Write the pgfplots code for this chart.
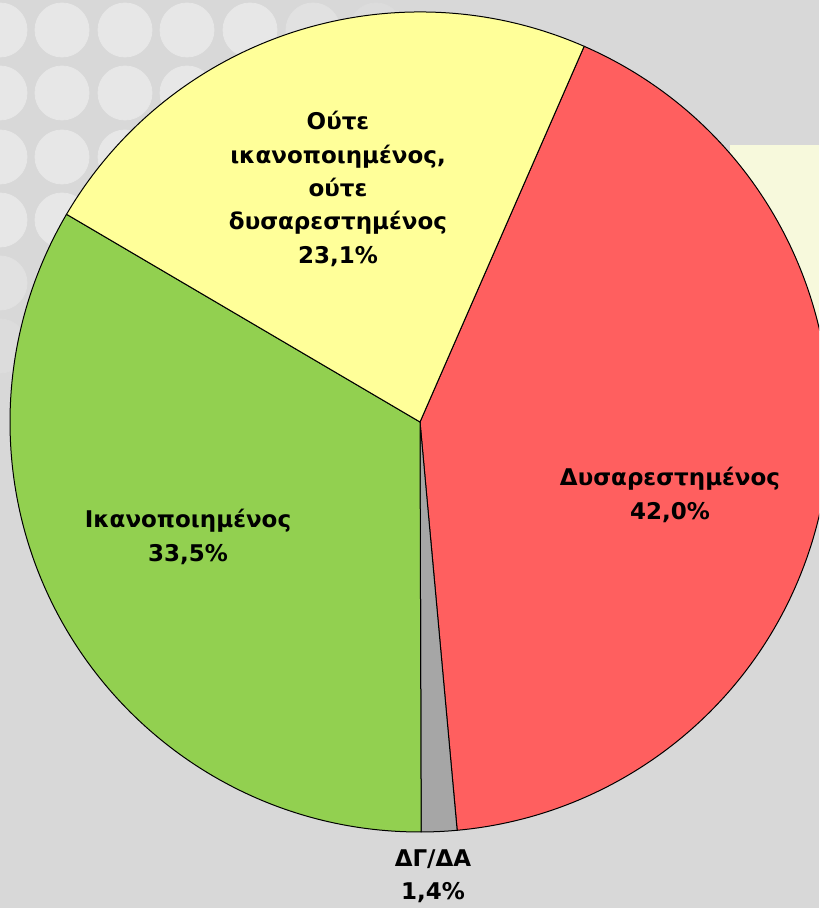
\documentclass[border=0pt]{standalone}
\usepackage{pgfplots}
\usepackage{pgfplotstable}
\pgfplotsset{compat=1.18}
\usepackage{fontspec}
\setmainfont{DejaVu Sans}
\definecolor{bgc}{HTML}{D8D8D8}
\definecolor{circA}{HTML}{E7E7E7}
\definecolor{circB}{HTML}{E1E1E1}
\definecolor{circC}{HTML}{DCDCDC}
\definecolor{panel}{HTML}{F7F9DC}
\definecolor{sred}{HTML}{FF5F5F}
\definecolor{sgrey}{HTML}{A6A6A6}
\definecolor{sgreen}{HTML}{92D050}
\definecolor{syellow}{HTML}{FFFF99}
\pgfplotstableread{
label value
red 42.0
grey 1.4
green 33.5
yellow 23.1
}\piedata
\pgfplotsset{canvas/.style={x=0.5pt, y=0.5pt, xmin=0, xmax=819, ymin=0, ymax=908,
  hide axis, scale only axis, clip=true, at={(0,0)}, anchor=south west}}
\begin{document}
\begin{tikzpicture}
\pgfplotstablegetelem{0}{value}\of\piedata \let\vR\pgfplotsretval
\pgfplotstablegetelem{1}{value}\of\piedata \let\vG\pgfplotsretval
\pgfplotstablegetelem{2}{value}\of\piedata \let\vN\pgfplotsretval
\pgfplotstablegetelem{3}{value}\of\piedata \let\vY\pgfplotsretval
\pgfmathsetmacro{\aA}{66.4}
\pgfmathsetmacro{\aB}{\aA-3.6*\vR}
\pgfmathsetmacro{\aC}{\aB-3.6*\vG}
\pgfmathsetmacro{\aD}{\aC-3.6*\vN}
\pgfmathsetmacro{\aE}{\aD-3.6*\vY}
% background layer
\begin{axis}[canvas]
\fill[bgc] (axis cs:0,0) rectangle (axis cs:819,908);
\fill[panel] (axis cs:730,408) rectangle (axis cs:819,763);
\addplot[only marks, color=circA, mark=*, mark size=13.5pt, mark options={draw=circA, fill=circA}] coordinates {
(0,878) (62,878) (125,878) (187,878) (250,878)
(0,815) (62,815) (125,815) (187,815)
(0,751) (62,751) (125,751)
(0,688) (62,688)
};
\addplot[only marks, color=circB, mark=*, mark size=13.5pt, mark options={draw=circB, fill=circB}] coordinates {
(313,878) (250,815) (187,751) (125,688) (0,625) (62,625)
};
\addplot[only marks, color=circC, mark=*, mark size=13.5pt, mark options={draw=circC, fill=circC}] coordinates {
(376,878) (313,815) (250,751) (125,625) (0,562) (62,562)
};
\end{axis}
% pie layer
\begin{axis}[canvas]
\filldraw[fill=sred, draw=black, line width=0.5pt] (axis cs:420,486) -- ++(\aA:205pt) arc[start angle=\aA, end angle=\aB, radius=205pt] -- cycle;
\filldraw[fill=sgrey, draw=black, line width=0.5pt] (axis cs:420,486) -- ++(\aB:205pt) arc[start angle=\aB, end angle=\aC, radius=205pt] -- cycle;
\filldraw[fill=sgreen, draw=black, line width=0.5pt] (axis cs:420,486) -- ++(\aC:205pt) arc[start angle=\aC, end angle=\aD, radius=205pt] -- cycle;
\filldraw[fill=syellow, draw=black, line width=0.5pt] (axis cs:420,486) -- ++(\aD:205pt) arc[start angle=\aD, end angle=\aE, radius=205pt] -- cycle;
\tikzset{lbl/.style={font=\bfseries\fontsize{11.5}{16.7}\selectfont, align=center, text=black, inner sep=0pt}}
\node[lbl] at (axis cs:338,719) {Ούτε\\ικανοποιημένος,\\ούτε\\δυσαρεστημένος\\23,1\%};
\node[lbl] at (axis cs:670,413) {Δυσαρεστημένος\\42,0\%};
\node[lbl] at (axis cs:188,371) {Ικανοποιημένος\\33,5\%};
\node[lbl] at (axis cs:433,32) {ΔΓ/ΔΑ\\1,4\%};
\end{axis}
\pgfresetboundingbox
\useasboundingbox (0,0) rectangle (409.5pt,454pt);
\end{tikzpicture}
\end{document}
